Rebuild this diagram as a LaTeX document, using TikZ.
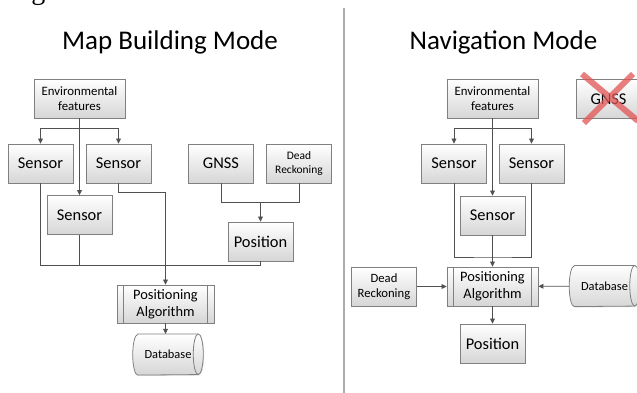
\documentclass[tikz,border=0pt]{standalone}
\usepackage{fontspec}
\setmainfont{Carlito}
\newfontfamily\captionfont{Liberation Serif}
\usetikzlibrary{arrows.meta,shadows,backgrounds}

\definecolor{boxline}{RGB}{128,128,128}
\definecolor{boxfill}{RGB}{214,214,214}
\definecolor{lineclr}{RGB}{80,80,80}
\definecolor{crossred}{RGB}{226,84,84}

\tikzset{
  box/.style={draw=boxline, line width=0.6pt, top color=white, bottom color=boxfill,
    minimum width=48.75pt, minimum height=29.25pt, inner sep=1pt, align=center,
    drop shadow={shadow xshift=0.7pt, shadow yshift=-0.7pt, opacity=0.25},
    font=\fontsize{12.3pt}{14pt}\selectfont},
  smallbox/.style={box, font=\fontsize{9.6pt}{11.5pt}\selectfont},
  procbox/.style={box, minimum height=28.5pt, font=\fontsize{10.8pt}{12.5pt}\selectfont},
  dbbox/.style={minimum width=52.5pt, minimum height=30.5pt, inner sep=1pt,
    font=\fontsize{9.3pt}{11pt}\selectfont},
  dbshape/.style={draw=boxline, line width=0.6pt, top color=white, bottom color=boxfill,
    drop shadow={shadow xshift=0.7pt, shadow yshift=-0.7pt, opacity=0.25}},
  title/.style={anchor=base, font=\fontsize{20.25pt}{24pt}\selectfont},
  line/.style={draw=lineclr, line width=0.6pt},
  arr/.style={line, -{Triangle[length=3.8pt,width=3.6pt]}},
}

% drum outline round a database node
\newcommand{\drum}[1]{%
  \path[dbshape] ([xshift=3.75pt]#1.north west) -- ([xshift=-3.75pt]#1.north east)
    arc[start angle=90, end angle=-90, x radius=3.75pt, y radius=15.25pt]
    -- ([xshift=3.75pt]#1.south west)
    arc[start angle=270, end angle=90, x radius=3.75pt, y radius=15.25pt] -- cycle;
  \draw[boxline, line width=0.6pt] ([xshift=-3.75pt]#1.north east)
    arc[start angle=90, end angle=270, x radius=3.75pt, y radius=15.25pt];
}

\begin{document}
\begin{tikzpicture}[x=0.75pt, y=-0.75pt]
  \useasboundingbox (0,0) rectangle (637,393);

  % tail of the caption line above
  \node[anchor=base west, inner sep=0, font=\captionfont\fontsize{21pt}{24pt}\selectfont] (capg) at (31,-1) {g};

  % dividing line
  \draw[gray!65, line width=1.1pt] (344,8) -- (344,393);

  %%% Map building mode
  \node[title] (tMap) at (170,49) {Map Building Mode};

  \node[smallbox, minimum width=68.25pt] (envL) at (79.5,98.5) {Environmental\\features};
  \node[box] (s1L) at (40.5,163.5) {Sensor};
  \node[box] (s2L) at (118.5,163.5) {Sensor};
  \node[box] (gnssL) at (221,163.5) {GNSS};
  \node[box, font=\fontsize{8.6pt}{10.5pt}\selectfont] (drL) at (299,163.5) {Dead\\Reckoning};
  \node[box] (s3L) at (79.5,215) {Sensor};
  \node[box] (posL) at (260.5,241.5) {Position};
  \node[procbox, minimum width=72.75pt] (paL) at (165.5,304) {Positioning\\Algorithm};
  \node[dbbox] (dbL) at (168,354.5) {Database\hspace{5pt}};

  % junctions
  \coordinate (jL) at ([yshift=-7.5pt]envL.south);
  \coordinate (jP) at (260.5,202);
  \coordinate (busL) at (260.5,265);

  \draw[arr] (envL) -- (s3L);
  \draw[arr] (jL) -| (s1L);
  \draw[arr] (jL) -| (s2L);
  \draw[line] (s1L) |- (busL);
  \draw[line] (s3L) -- (s3L |- busL);
  \draw[line] (posL) -- (busL);
  \draw[arr] (s2L.south) -- ++(0,-6.75pt) -| (paL);
  \draw[line] (gnssL) |- (jP);
  \draw[line] (drL) |- (jP);
  \draw[arr] (jP) -- (posL);
  \draw[arr] (paL.south) -- (paL.south |- dbL.north);

  %%% Navigation mode
  \node[title] (tNav) at (503.5,49) {Navigation Mode};

  \node[smallbox, minimum width=68.25pt] (envR) at (492.5,98.5) {Environmental\\features};
  \node[box] (gnssR) at (608.5,99) {GNSS};
  \node[box] (s1R) at (454,163.5) {Sensor};
  \node[box] (s2R) at (531.5,163.5) {Sensor};
  \node[box] (s3R) at (492.5,215.5) {Sensor};
  \node[procbox, minimum width=68.25pt, minimum height=29.25pt] (paR) at (492.5,286.5) {Positioning\\Algorithm};
  \node[box, font=\fontsize{9.5pt}{11.5pt}\selectfont] (drR) at (384,286.5) {Dead\\Reckoning};
  \node[dbbox] (dbR) at (604.5,286) {Database\hspace{5pt}};
  \node[box] (posR) at (492.5,343.5) {Position};

  \coordinate (jR) at ([yshift=-7.5pt]envR.south);
  \coordinate (busR) at (492.5,257);

  \draw[arr] (envR) -- (s3R);
  \draw[arr] (jR) -| (s1R);
  \draw[arr] (jR) -| (s2R);
  \draw[line] (s1R) |- (busR) -| (s2R);
  \draw[arr] (s3R) -- (paR);
  \draw[arr] (drR) -- (paR);
  \draw[arr] (dbR) -- (paR);
  \draw[arr] (paR) -- (posR);

  % side bars of the process boxes
  \foreach \n in {paL,paR}
    \draw[boxline, line width=0.6pt]
      ([xshift=5.25pt]\n.north west) -- ([xshift=5.25pt]\n.south west)
      ([xshift=-5.25pt]\n.north east) -- ([xshift=-5.25pt]\n.south east);

  % database drums go under their labels
  \begin{pgfonlayer}{background}
    \drum{dbL}
    \drum{dbR}
  \end{pgfonlayer}

  % GNSS is struck out
  \draw[crossred, opacity=0.75, line width=4.5pt]
    (582,74) -- (638,121)
    (633,74) -- (584,123);
\end{tikzpicture}
\end{document}
